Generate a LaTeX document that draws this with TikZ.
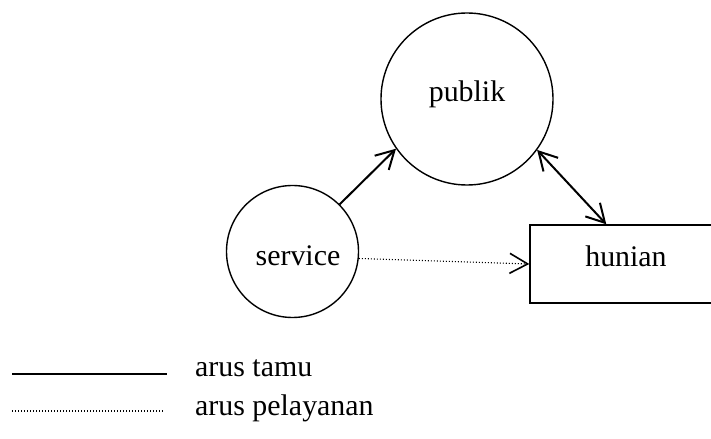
\documentclass[tikz,border=0pt]{standalone}
\usepackage{fontspec}
\setmainfont{Liberation Serif}
\usetikzlibrary{arrows.meta}
\begin{document}
\begin{tikzpicture}[x=1bp,y=-1bp,
  lbl/.style={font=\fontsize{30}{36}\selectfont},
  shapebox/.style={draw, line width=1.4bp, inner sep=0pt, lbl},
  tip/.style={Straight Barb[length=18bp,width=20bp]},
  flow/.style={line width=2bp, -{Straight Barb[length=18bp,width=20bp]}},
  dflow/.style={line width=2bp, {Straight Barb[length=18bp,width=20bp]}-{Straight Barb[length=18bp,width=20bp]}},
  sflow/.style={line width=1.1bp, dash pattern=on 1.1bp off 1.9bp, -{Straight Barb[length=18bp,width=20bp,line width=1.6bp]}},
  legsolid/.style={line width=1.3bp},
  legdot/.style={line width=1.1bp, dash pattern=on 1.1bp off 1.9bp}
]
\useasboundingbox (0,0) rectangle (711,439);

\node[shapebox, circle, minimum size=172bp, text height=20bp, text depth=14bp] (publik) at (467,99) {publik};
\node[shapebox, circle, minimum size=132bp, text height=29bp, text depth=0bp] (service) at (292.5,251.5) {\hspace*{11bp}service};
\node[shapebox, rectangle, minimum width=192bp, minimum height=78bp, text height=20bp, text depth=14bp] (hunian) at (626,264) {hunian};

\draw[flow] (service.45) -- (publik.215);
\draw[dflow] (publik.324) -- ([xshift=77bp]hunian.north west);
\draw[sflow] (service.-6) -- (hunian.west);

% legend
\coordinate (s1) at (12,374);
\coordinate (s2) at (167,374);
\coordinate (d1) at (12,411);
\coordinate (d2) at (164,411);
\draw[legsolid] (s1) -- (s2);
\draw[legdot] (d1) -- (d2);
\node[lbl, anchor=base west, inner sep=0pt] (ltamu) at (195,376) {arus tamu};
\node[lbl, anchor=base west, inner sep=0pt] (lpel) at (195,415) {arus pelayanan};
\end{tikzpicture}
\end{document}
